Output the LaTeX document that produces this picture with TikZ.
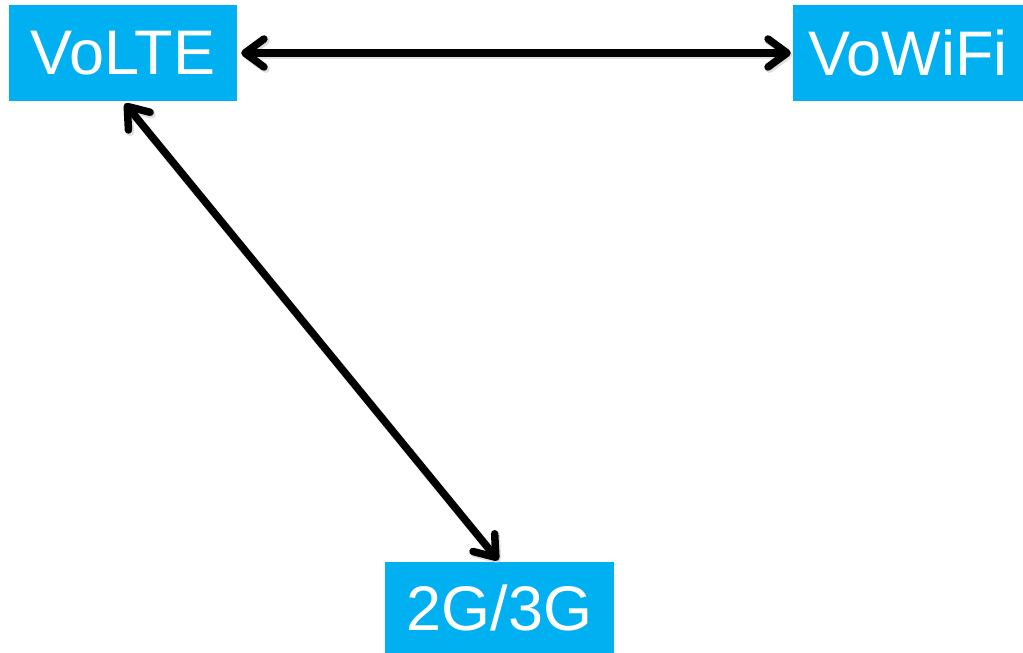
\documentclass[tikz,border=0pt]{standalone}
\usepackage{fontspec}
\setmainfont{Liberation Sans}
\usetikzlibrary{arrows.meta}
\definecolor{boxblue}{HTML}{00B0F0}
\tikzset{
  netbox/.style={fill=boxblue, draw=none, text=white, font=\fontsize{63}{70}\selectfont, inner sep=0pt, anchor=center},
  link/.style={line width=7.5pt, black, {Straight Barb[length=19pt, width=28pt, round]}-{Straight Barb[length=19pt, width=28pt, round]}, line cap=round},
  shadowlink/.style={line width=8pt, black!25, opacity=0.5, {Straight Barb[length=19pt, width=28pt, round]}-{Straight Barb[length=19pt, width=28pt, round]}, line cap=round}
}
\begin{document}
\begin{tikzpicture}[x=1pt, y=-1pt]
\useasboundingbox (0,0) rectangle (1023,653);
\node[netbox, minimum width=228pt, minimum height=96pt] (volte) at (123,53) {VoLTE};
\node[netbox, minimum width=230pt, minimum height=96pt] (vowifi) at (908,53) {VoWiFi};
\node[netbox, minimum width=229pt, minimum height=91pt] (g) at (499.5,607.5) {2G/3G};
\draw[shadowlink, transform canvas={xshift=1.5pt, yshift=-2pt}, shorten <=4pt, shorten >=2pt] (volte.east) -- (vowifi.west);
\draw[shadowlink, transform canvas={xshift=1.5pt, yshift=-2pt}, shorten <=3pt, shorten >=2pt] (volte.south) -- (g.north);
\draw[link, shorten <=4pt, shorten >=2pt] (volte.east) -- (vowifi.west);
\draw[link, shorten <=3pt, shorten >=2pt] (volte.south) -- (g.north);
\end{tikzpicture}
\end{document}
